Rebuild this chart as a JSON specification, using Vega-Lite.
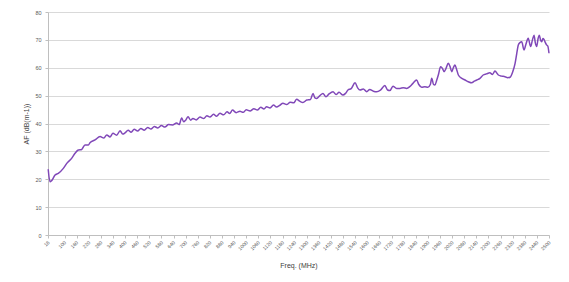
{
  "$schema": "https://vega.github.io/schema/vega-lite/v6.json",
  "width": 501,
  "height": 223,
  "autosize": {"type": "none"},
  "padding": {"left": 48, "top": 12, "right": 20, "bottom": 47},
  "background": "white",
  "config": {"view": {"stroke": null}, "font": "Liberation Sans"},
  "data": {"values": [
    {"f": 19, "af": 23.6}, {"f": 28, "af": 19.1}, {"f": 36, "af": 19.5}, {"f": 53, "af": 21.5},
    {"f": 69, "af": 22.1}, {"f": 94, "af": 23.9}, {"f": 111, "af": 25.7}, {"f": 135, "af": 27.5},
    {"f": 152, "af": 29.3}, {"f": 168, "af": 30.5}, {"f": 185, "af": 30.7}, {"f": 201, "af": 32.3},
    {"f": 218, "af": 32.3}, {"f": 226, "af": 33.1}, {"f": 251, "af": 34.1},
    {"f": 276, "af": 35.3}, {"f": 295, "af": 34.8}, {"f": 309, "af": 35.9}, {"f": 325, "af": 35.2},
    {"f": 340, "af": 36.5}, {"f": 358, "af": 35.8}, {"f": 375, "af": 37.4}, {"f": 388, "af": 36.2},
    {"f": 399, "af": 36.6}, {"f": 415, "af": 37.6}, {"f": 430, "af": 36.9}, {"f": 445, "af": 37.9},
    {"f": 462, "af": 37.3}, {"f": 478, "af": 38.2}, {"f": 495, "af": 37.6}, {"f": 512, "af": 38.6},
    {"f": 528, "af": 38.0}, {"f": 545, "af": 38.9}, {"f": 562, "af": 38.4}, {"f": 580, "af": 39.3},
    {"f": 597, "af": 38.7}, {"f": 615, "af": 39.6}, {"f": 637, "af": 39.5}, {"f": 655, "af": 40.2},
    {"f": 668, "af": 39.6}, {"f": 680, "af": 42.0}, {"f": 690, "af": 40.6}, {"f": 700, "af": 41.2},
    {"f": 712, "af": 42.4}, {"f": 725, "af": 41.2}, {"f": 736, "af": 41.8}, {"f": 752, "af": 41.3},
    {"f": 771, "af": 42.3}, {"f": 790, "af": 41.8}, {"f": 805, "af": 42.8}, {"f": 820, "af": 42.3},
    {"f": 838, "af": 43.3}, {"f": 853, "af": 42.6}, {"f": 870, "af": 43.7}, {"f": 888, "af": 43.1},
    {"f": 905, "af": 44.2}, {"f": 918, "af": 43.6}, {"f": 932, "af": 44.8}, {"f": 950, "af": 43.9},
    {"f": 969, "af": 44.4}, {"f": 985, "af": 44.0}, {"f": 1000, "af": 44.9}, {"f": 1019, "af": 44.5},
    {"f": 1038, "af": 45.3}, {"f": 1055, "af": 44.8}, {"f": 1072, "af": 45.8}, {"f": 1088, "af": 45.2},
    {"f": 1101, "af": 46.0}, {"f": 1118, "af": 45.6}, {"f": 1135, "af": 46.6}, {"f": 1150, "af": 45.9},
    {"f": 1166, "af": 46.5}, {"f": 1182, "af": 47.3}, {"f": 1200, "af": 46.8}, {"f": 1218, "af": 47.6},
    {"f": 1235, "af": 47.4}, {"f": 1250, "af": 48.7}, {"f": 1265, "af": 48.0}, {"f": 1281, "af": 47.5},
    {"f": 1300, "af": 48.4}, {"f": 1318, "af": 48.6}, {"f": 1331, "af": 50.8}, {"f": 1340, "af": 49.2},
    {"f": 1349, "af": 49.0}, {"f": 1365, "af": 50.0}, {"f": 1380, "af": 50.8}, {"f": 1395, "af": 49.6},
    {"f": 1410, "af": 50.6}, {"f": 1430, "af": 51.4}, {"f": 1445, "af": 50.4}, {"f": 1460, "af": 51.2},
    {"f": 1479, "af": 50.2}, {"f": 1492, "af": 50.8}, {"f": 1504, "af": 52.0}, {"f": 1520, "af": 52.5},
    {"f": 1539, "af": 54.6}, {"f": 1552, "af": 52.8}, {"f": 1564, "af": 52.0}, {"f": 1580, "af": 52.4},
    {"f": 1597, "af": 51.4}, {"f": 1612, "af": 52.2}, {"f": 1630, "af": 51.6}, {"f": 1646, "af": 51.4},
    {"f": 1665, "af": 52.0}, {"f": 1687, "af": 53.6}, {"f": 1700, "af": 52.0}, {"f": 1712, "af": 51.8},
    {"f": 1727, "af": 53.4}, {"f": 1745, "af": 52.6}, {"f": 1762, "af": 52.6}, {"f": 1778, "af": 52.8},
    {"f": 1795, "af": 52.6}, {"f": 1810, "af": 53.2}, {"f": 1826, "af": 54.4}, {"f": 1844, "af": 55.6},
    {"f": 1855, "af": 54.0}, {"f": 1869, "af": 53.0}, {"f": 1885, "af": 53.2}, {"f": 1900, "af": 53.0},
    {"f": 1912, "af": 54.0}, {"f": 1919, "af": 56.2}, {"f": 1928, "af": 54.0}, {"f": 1935, "af": 53.8},
    {"f": 1944, "af": 55.6}, {"f": 1952, "af": 57.5}, {"f": 1963, "af": 60.4}, {"f": 1972, "af": 59.8},
    {"f": 1980, "af": 58.6}, {"f": 1990, "af": 59.8}, {"f": 2001, "af": 61.6}, {"f": 2010, "af": 60.4},
    {"f": 2018, "af": 58.6}, {"f": 2026, "af": 60.0}, {"f": 2034, "af": 61.0}, {"f": 2042, "af": 59.5},
    {"f": 2051, "af": 57.4}, {"f": 2068, "af": 56.2}, {"f": 2084, "af": 55.6}, {"f": 2100, "af": 55.0},
    {"f": 2117, "af": 54.6}, {"f": 2130, "af": 55.2}, {"f": 2142, "af": 55.6}, {"f": 2158, "af": 56.2},
    {"f": 2174, "af": 57.4}, {"f": 2190, "af": 57.8}, {"f": 2207, "af": 58.2}, {"f": 2220, "af": 57.6},
    {"f": 2232, "af": 58.8}, {"f": 2249, "af": 57.4}, {"f": 2265, "af": 57.0}, {"f": 2282, "af": 56.8},
    {"f": 2295, "af": 56.4}, {"f": 2307, "af": 56.6}, {"f": 2320, "af": 58.5}, {"f": 2332, "af": 61.6},
    {"f": 2340, "af": 65.0}, {"f": 2348, "af": 68.2}, {"f": 2356, "af": 69.0}, {"f": 2365, "af": 69.3},
    {"f": 2376, "af": 66.4}, {"f": 2386, "af": 68.5}, {"f": 2397, "af": 70.6}, {"f": 2409, "af": 67.6},
    {"f": 2418, "af": 70.0}, {"f": 2426, "af": 71.7}, {"f": 2432, "af": 69.0}, {"f": 2439, "af": 67.6},
    {"f": 2446, "af": 70.5}, {"f": 2452, "af": 71.7}, {"f": 2458, "af": 70.0}, {"f": 2464, "af": 69.3},
    {"f": 2470, "af": 70.5}, {"f": 2475, "af": 70.2}, {"f": 2482, "af": 69.0}, {"f": 2488, "af": 68.2},
    {"f": 2494, "af": 67.8}, {"f": 2500, "af": 65.2}
  ]},
  "mark": {"type": "line", "color": "#8048b8", "strokeWidth": 1.5, "interpolate": "monotone"},
  "encoding": {
    "x": {
      "field": "f", "type": "quantitative",
      "scale": {"domain": [18, 2500], "nice": false, "zero": false},
      "axis": {
        "title": "Freq. (MHz)",
        "titleFont": "Liberation Sans", "titleFontSize": 7, "titleFontWeight": "normal", "titleColor": "#404040",
        "titlePadding": 11,
        "values": [18, 100, 160, 220, 280, 340, 400, 460, 520, 580, 640, 700, 760, 820, 880, 940, 1000, 1060, 1120, 1180, 1240, 1300, 1360, 1420, 1480, 1540, 1600, 1660, 1720, 1780, 1840, 1900, 1960, 2020, 2080, 2140, 2200, 2260, 2320, 2380, 2440, 2500],
        "format": "d",
        "labelAngle": -45, "labelAlign": "right", "labelBaseline": "middle",
        "labelFontSize": 5, "labelColor": "#595959", "labelPadding": 3,
        "labelOverlap": false, "labelFlush": false,
        "grid": false, "domainColor": "#bfbfbf", "tickColor": "#bfbfbf", "tickSize": 3
      }
    },
    "y": {
      "field": "af", "type": "quantitative",
      "scale": {"domain": [0, 80], "nice": false},
      "axis": {
        "title": "AF (dB(m-1))",
        "titleFont": "Liberation Sans", "titleFontSize": 7, "titleFontWeight": "normal", "titleColor": "#404040",
        "titlePadding": 5,
        "values": [0, 10, 20, 30, 40, 50, 60, 70, 80],
        "labelFontSize": 5.5, "labelColor": "#595959", "labelPadding": 4,
        "grid": true, "gridColor": "#d9d9d9", "gridWidth": 1,
        "domainColor": "#bfbfbf", "tickColor": "#bfbfbf", "tickSize": 3
      }
    }
  }
}
